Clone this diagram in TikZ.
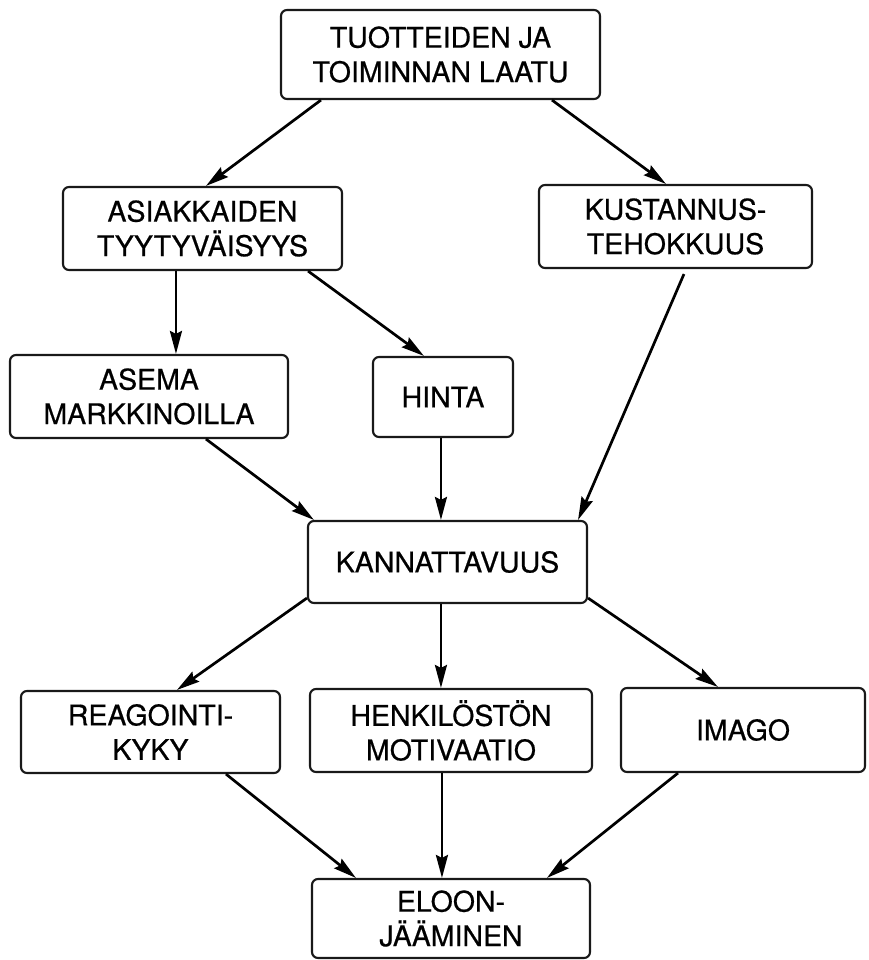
\documentclass[tikz,border=0pt]{standalone}
\usepackage{fontspec}
\setmainfont{TeX Gyre Heros}[FakeBold=0.6]
\usetikzlibrary{arrows.meta,calc}
\tikzset{
  box/.style={draw=black!90, line width=2.1pt, rounded corners=6pt, inner sep=0pt,
    align=center, font=\fontsize{28.5}{34.5}\selectfont, text=black},
  arr/.style={line width=2.7pt, draw=black,
    -{Stealth[length=23pt,width=12pt,inset=3pt]}}
}
\begin{document}
\begin{tikzpicture}[x=1pt,y=-1pt]
\useasboundingbox (0,0) rectangle (868,960);
\node[box, minimum width=319pt, minimum height=89pt] (tuot) at (440.5,54.5) {TUOTTEIDEN JA\\TOIMINNAN LAATU};
\node[box, minimum width=279pt, minimum height=83pt] (asia) at (202.5,228.5) {ASIAKKAIDEN\\TYYTYVÄISYYS};
\node[box, minimum width=273pt, minimum height=83pt] (kust) at (675.5,226.5) {KUSTANNUS-\\TEHOKKUUS};
\node[box, minimum width=278pt, minimum height=83pt] (asema) at (149,396.5) {ASEMA\\MARKKINOILLA};
\node[box, minimum width=140pt, minimum height=80pt] (hinta) at (443,397) {HINTA};
\node[box, minimum width=279pt, minimum height=82pt] (kann) at (447.5,562) {KANNATTAVUUS};
\node[box, minimum width=259pt, minimum height=82pt] (reag) at (150.5,732) {REAGOINTI-\\KYKY};
\node[box, minimum width=282pt, minimum height=83pt] (henk) at (451,730.5) {HENKILÖSTÖN\\MOTIVAATIO};
\node[box, minimum width=244pt, minimum height=84pt] (imago) at (743,730) {IMAGO};
\node[box, minimum width=278pt, minimum height=79pt] (eloon) at (451,918.5) {ELOON-\\JÄÄMINEN};

\draw[arr] ($(tuot.south west)+(41,0)$) -- ($(asia.north west)+(144,0)$);
\draw[arr] ($(tuot.south west)+(272,0)$) -- ($(kust.north west)+(128,0)$);
\draw[arr] ($(asia.south west)+(114,0)$) -- ($(asema.north west)+(167,0)$);
\draw[arr] ($(asia.south east)+(-35,0)$) -- ($(hinta.north west)+(52,0)$);
\draw[arr] ($(kust.south west)+(146,5)$) -- ($(kann.north east)+(-10,0)$);
\draw[arr] ($(asema.south west)+(197,0)$) -- ($(kann.north west)+(7,0)$);
\draw[arr] ($(hinta.south west)+(69,0)$) -- ($(kann.north west)+(134,0)$);
\draw[arr] ($(kann.south west)+(0,-6)$) -- ($(reag.north west)+(157,0)$);
\draw[arr] ($(kann.south west)+(134,0)$) -- ($(henk.north west)+(132,0)$);
\draw[arr] ($(kann.south east)+(0,-6)$) -- ($(imago.north west)+(98,0)$);
\draw[arr] ($(reag.south west)+(206,0)$) -- ($(eloon.north west)+(45,0)$);
\draw[arr] ($(henk.south west)+(133,0)$) -- ($(eloon.north west)+(131,0)$);
\draw[arr] ($(imago.south west)+(58,0)$) -- ($(eloon.north west)+(236,0)$);
\end{tikzpicture}
\end{document}
